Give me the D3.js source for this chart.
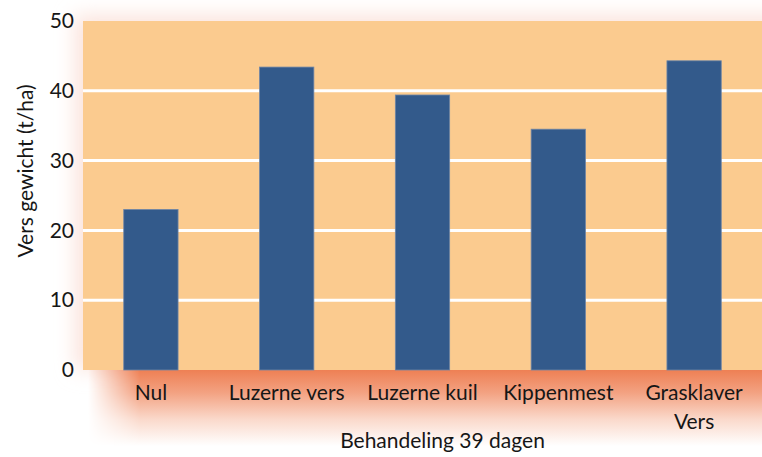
<!DOCTYPE html>
<html>
<head>
<meta charset="utf-8">
<script src="https://cdn.jsdelivr.net/npm/d3@7"></script>
<style>
  body { margin: 0; background: #fff; }
  text { font-family: Lato, "Open Sans", sans-serif; fill: #161616; }
</style>
</head>
<body>
<svg id="chart" width="762" height="457"></svg>
<script>
const categories = ['Nul', 'Luzerne vers', 'Luzerne kuil', 'Kippenmest', 'Grasklaver Vers'];
const values = [23, 43.4, 39.4, 34.5, 44.3];
const yTicks = [0, 10, 20, 30, 40, 50];

const width = 762, height = 457;
const margin = {top: 21, right: 0, bottom: 87, left: 83};

const svg = d3.select('#chart');

const x = d3.scaleBand()
    .domain(categories)
    .range([margin.left, width - margin.right])
    .paddingInner(0.6)
    .paddingOuter(0.3);

const y = d3.scaleLinear()
    .domain([0, 50])
    .range([height - margin.bottom, margin.top]);

const defs = svg.append('defs');
defs.append('filter')
    .attr('id', 'glow')
    .attr('x', '-20%').attr('y', '-50%')
    .attr('width', '140%').attr('height', '200%')
    .append('feGaussianBlur')
    .attr('stdDeviation', 10);

// vertical fade of the salmon band
const fade = defs.append('linearGradient')
    .attr('id', 'fade')
    .attr('x1', 0).attr('y1', 0).attr('x2', 0).attr('y2', 1);
fade.append('stop').attr('offset', '0%').attr('stop-color', '#ee8054');
fade.append('stop').attr('offset', '30%').attr('stop-color', '#f3a282');
fade.append('stop').attr('offset', '65%').attr('stop-color', '#fad9cb');
fade.append('stop').attr('offset', '100%').attr('stop-color', '#ffffff');

// soft left edge of the band
const side = defs.append('linearGradient')
    .attr('id', 'side')
    .attr('gradientUnits', 'userSpaceOnUse')
    .attr('x1', 88).attr('y1', 0).attr('x2', 140).attr('y2', 0);
side.append('stop').attr('offset', '0%').attr('stop-color', '#000');
side.append('stop').attr('offset', '100%').attr('stop-color', '#fff');
defs.append('mask')
    .attr('id', 'sideMask')
    .attr('maskUnits', 'userSpaceOnUse')
    .attr('x', 0).attr('y', 0).attr('width', width).attr('height', height)
    .append('rect')
    .attr('x', 0).attr('y', 0).attr('width', width).attr('height', height)
    .attr('fill', 'url(#side)');

// faint halo round the plot
svg.append('rect')
    .attr('x', margin.left - 8)
    .attr('y', margin.top - 6)
    .attr('width', width)
    .attr('height', y(0) - margin.top + 6)
    .attr('fill', '#fbe3dc')
    .attr('filter', 'url(#glow)');

// salmon band under the axis
svg.append('rect')
    .attr('x', 88)
    .attr('y', y(0))
    .attr('width', width - 88)
    .attr('height', 76)
    .attr('fill', 'url(#fade)')
    .attr('mask', 'url(#sideMask)');

// plot background
svg.append('rect')
    .attr('x', margin.left)
    .attr('y', margin.top)
    .attr('width', width - margin.left - margin.right)
    .attr('height', y(0) - margin.top)
    .attr('fill', '#fbcb8f');

// gridlines
svg.append('g')
    .selectAll('line')
    .data(yTicks.filter(d => d > 0 && d < 50))
    .join('line')
    .attr('x1', margin.left)
    .attr('x2', width - margin.right)
    .attr('y1', d => y(d))
    .attr('y2', d => y(d))
    .attr('stroke', '#fff')
    .attr('stroke-width', 3);

// bars
svg.append('g')
    .selectAll('rect')
    .data(values)
    .join('rect')
    .attr('x', (d, i) => x(categories[i]))
    .attr('y', d => y(d))
    .attr('width', x.bandwidth())
    .attr('height', d => y(0) - y(d))
    .attr('fill', '#335a8b')
    .attr('stroke', '#6f86a6')
    .attr('stroke-width', 0.8);

// y axis
const yAxis = svg.append('g')
    .attr('transform', `translate(${margin.left - 9},0)`)
    .call(d3.axisLeft(y).tickValues(yTicks).tickSize(0).tickPadding(0));
yAxis.select('.domain').remove();
yAxis.selectAll('text')
    .attr('font-size', 21)
    .attr('fill', '#161616')
    .attr('font-family', 'Lato, "Open Sans", sans-serif');

// x labels
const xLabels = svg.append('g')
    .selectAll('text')
    .data(categories)
    .join('text')
    .attr('x', d => x(d) + x.bandwidth() / 2)
    .attr('y', y(0) + 30)
    .attr('text-anchor', 'middle')
    .attr('font-size', 21);
xLabels.each(function (d) {
    const words = d === 'Grasklaver Vers' ? ['Grasklaver', 'Vers'] : [d];
    d3.select(this).selectAll('tspan')
        .data(words)
        .join('tspan')
        .attr('x', x(d) + x.bandwidth() / 2)
        .attr('dy', (w, i) => i === 0 ? 0 : 29)
        .text(w => w);
});

svg.append('text')
    .attr('x', x('Luzerne kuil') + x.bandwidth() / 2 + 20)
    .attr('y', 448)
    .attr('text-anchor', 'middle')
    .attr('font-size', 21)
    .text('Behandeling 39 dagen');

svg.append('text')
    .attr('transform', `translate(33,${171}) rotate(-90)`)
    .attr('text-anchor', 'middle')
    .attr('font-size', 21)
    .text('Vers gewicht (t/ha)');
</script>
</body>
</html>
